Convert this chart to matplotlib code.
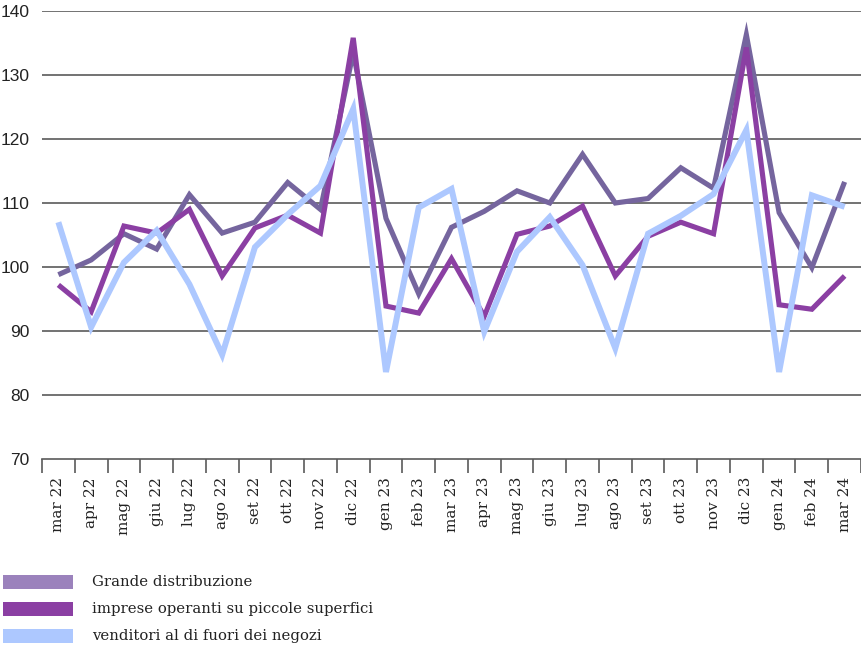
import matplotlib
matplotlib.use("Agg")
import matplotlib.pyplot as plt
from matplotlib.patches import Rectangle
from matplotlib.ticker import FixedLocator, NullFormatter

months = ["mar 22", "apr 22", "mag 22", "giu 22", "lug 22", "ago 22", "set 22", "ott 22",
          "nov 22", "dic 22", "gen 23", "feb 23", "mar 23", "apr 23", "mag 23", "giu 23",
          "lug 23", "ago 23", "set 23", "ott 23", "nov 23", "dic 23", "gen 24", "feb 24", "mar 24"]

grande = [98.8, 101.1, 105.2, 102.8, 111.3, 105.3, 107.0, 113.2, 109.0, 133.5, 107.6, 95.8,
          106.2, 108.7, 111.9, 110.0, 117.6, 110.0, 110.7, 115.5, 112.3, 136.3, 108.5, 99.9, 113.3]
piccole = [97.2, 93.0, 106.4, 105.3, 109.0, 98.6, 106.1, 108.1, 105.3, 135.8, 93.9, 92.8,
           101.3, 92.3, 105.1, 106.4, 109.5, 98.6, 104.8, 107.0, 105.2, 134.3, 94.1, 93.4, 98.6]
ambulanti = [107.0, 90.6, 100.7, 105.7, 97.3, 86.3, 103.1, 108.2, 112.7, 124.7, 83.6, 109.3,
             112.2, 89.9, 102.4, 107.8, 100.3, 87.3, 105.2, 108.0, 111.4, 121.4, 83.6, 111.2, 109.4]

series_labels = ["Grande distribuzione", "imprese operanti su piccole superfici",
                 "venditori al di fuori dei negozi"]
line_colors = ["#75659e", "#8b3fa3", "#adc8ff"]
legend_colors = ["#9b82bc", "#8b3fa3", "#adc8ff"]
yticks = [70, 80, 90, 100, 110, 120, 130, 140]

fig = plt.figure(figsize=(8.61, 6.48), dpi=100)
ax = fig.add_axes([42 / 861, 1 - 459 / 648, 1 - 42 / 861, (459 - 11) / 648])

x = list(range(len(months)))
for vals, col, lw in zip([grande, piccole, ambulanti], line_colors, [3.7, 3.7, 4.3]):
    ax.plot(x, vals, color=col, lw=lw, solid_joinstyle="miter", solid_capstyle="butt", zorder=3)

ax.set_xlim(-0.5, len(months) - 0.5)
ax.set_ylim(70, 140)

for y in yticks[1:]:
    ax.axhline(y, color="#5a5a5a", lw=1.2, zorder=1)

for s in ["top", "right", "left"]:
    ax.spines[s].set_visible(False)
ax.spines["bottom"].set_color("#5a5a5a")
ax.spines["bottom"].set_linewidth(1.2)

ax.set_yticks(yticks)
ax.set_yticklabels([str(v) for v in yticks], fontsize=12.5,
                   family=["Liberation Sans Narrow", "Liberation Sans", "DejaVu Sans"], color="#222222")
ax.tick_params(axis="y", length=0, pad=9)

ax.xaxis.set_major_locator(FixedLocator([i - 0.5 for i in range(len(months) + 1)]))
ax.xaxis.set_major_formatter(NullFormatter())
ax.xaxis.set_minor_locator(FixedLocator(x))
ax.set_xticklabels(months, minor=True, rotation=90, fontsize=11,
                   family=["DejaVu Serif"], color="#222222")
ax.tick_params(axis="x", which="major", length=10, width=1.2, color="#5a5a5a", direction="out")
ax.tick_params(axis="x", which="minor", length=0, pad=13)

# legend
for i, (lab, col) in enumerate(zip(series_labels, legend_colors)):
    yc = 582 + i * 27
    fig.add_artist(Rectangle((3 / 861, 1 - (yc + 7) / 648), 70 / 861, 14 / 648,
                             transform=fig.transFigure, color=col, lw=0))
    fig.text(92 / 861, 1 - yc / 648, lab, fontsize=10.7, family=["DejaVu Serif"],
             color="#222222", va="center", ha="left")

fig.savefig("out.png", dpi=100)
